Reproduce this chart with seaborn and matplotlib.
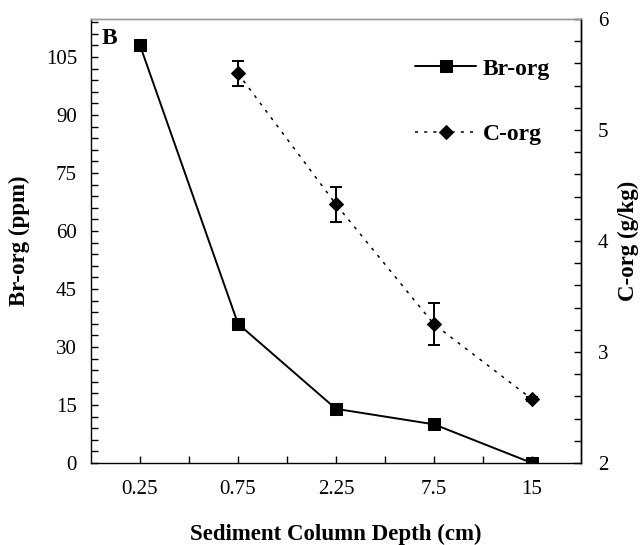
import numpy as np
import pandas as pd
import matplotlib
matplotlib.use("Agg")
import matplotlib.pyplot as plt
from matplotlib.ticker import MultipleLocator, FixedLocator
import seaborn as sns

# ---- data ----
depth_labels = ["0.25", "0.75", "2.25", "7.5", "15"]
br_org = [108, 36, 14, 10, 0]
c_org_labels = ["0.75", "2.25", "7.5", "15"]
c_org = [5.51, 4.33, 3.25, 2.575]
c_org_err = [0.115, 0.155, 0.19, 0.02]

sns.set_theme(style="ticks")
plt.rcParams['font.family'] = ['Liberation Serif', 'DejaVu Serif']
plt.rcParams.update({"text.color": "black", "axes.labelcolor": "black",
                     "xtick.color": "black", "ytick.color": "black",
                     "axes.edgecolor": "black"})

pos = {lab: i for i, lab in enumerate(depth_labels)}
df_br = pd.DataFrame({"x": [pos[l] for l in depth_labels], "y": br_org})
df_c = pd.DataFrame({"x": [pos[l] for l in c_org_labels], "y": c_org, "err": c_org_err})

fig = plt.figure(figsize=(6.42, 5.45), dpi=100)
ax = fig.add_axes([91/642, (545-463)/545, (581-91)/642, (463-19)/545])
ax2 = ax.twinx()

sns.lineplot(data=df_br, x="x", y="y", ax=ax, color="black", lw=1.4,
             marker="s", markersize=9, markeredgecolor="black", label="Br-org", legend=False)
ax2.errorbar(df_c["x"], df_c["y"], yerr=df_c["err"], fmt="none", ecolor="black",
             elinewidth=1.4, capsize=4, capthick=1.4, zorder=3)
sns.lineplot(data=df_c, x="x", y="y", ax=ax2, color="black", lw=1.1,
             linestyle=(0, (2, 4)), marker="D", markersize=7,
             markeredgecolor="black", label="C-org", legend=False)

ax.set_xlim(-0.5, 4.5)
ax.set_ylim(0, 114.8)
ax2.set_ylim(2, 6)

ax.set_xticks(range(len(depth_labels)))
ax.set_xticklabels(depth_labels)
ax.xaxis.set_minor_locator(FixedLocator(np.arange(0.5, 4.0, 1.0)))
ax.set_yticks(np.arange(0, 106, 15))
ax.yaxis.set_minor_locator(MultipleLocator(3))
ax2.yaxis.set_major_locator(MultipleLocator(1))
ax2.yaxis.set_minor_locator(MultipleLocator(0.2))

ax.tick_params(axis="both", which="both", direction="in", length=5, width=1.0,
               color="black", labelsize=15, pad=10)
ax.tick_params(axis="x", which="both", pad=12)
ax2.tick_params(axis="y", which="both", direction="in", length=5, width=1.0,
                color="black", labelsize=15, pad=12)

for a in (ax, ax2):
    for s in a.spines.values():
        s.set_color("black")
        s.set_linewidth(1.0)
    a.spines["top"].set_color("#999999")
ax2.spines["left"].set_visible(False)
ax2.spines["bottom"].set_visible(False)

ax.set_xlabel("Sediment Column Depth (cm)", fontsize=16.5, fontweight="bold")
ax.xaxis.set_label_coords(0.5, -0.137)
ax.set_ylabel("Br-org (ppm)", fontsize=16.5, fontweight="bold")
ax.yaxis.set_label_coords(-0.125, 0.5)
ax2.set_ylabel("C-org (g/kg)", fontsize=16.5, fontweight="bold")
ax2.yaxis.set_label_coords(1.075, 0.5)

ax.text(0.022, 0.957, "B", transform=ax.transAxes, fontsize=17, fontweight="bold",
        ha="left", va="center")

h1, l1 = ax.get_legend_handles_labels()
h2, l2 = ax2.get_legend_handles_labels()
ax2.legend(h1 + h2, l1 + l2, loc="upper right", bbox_to_anchor=(0.98, 0.96),
           frameon=False, handlelength=2.55, labelspacing=1.88,
           handletextpad=0.3, prop={"weight": "bold", "size": 17})

fig.savefig("out.png", dpi=100)
